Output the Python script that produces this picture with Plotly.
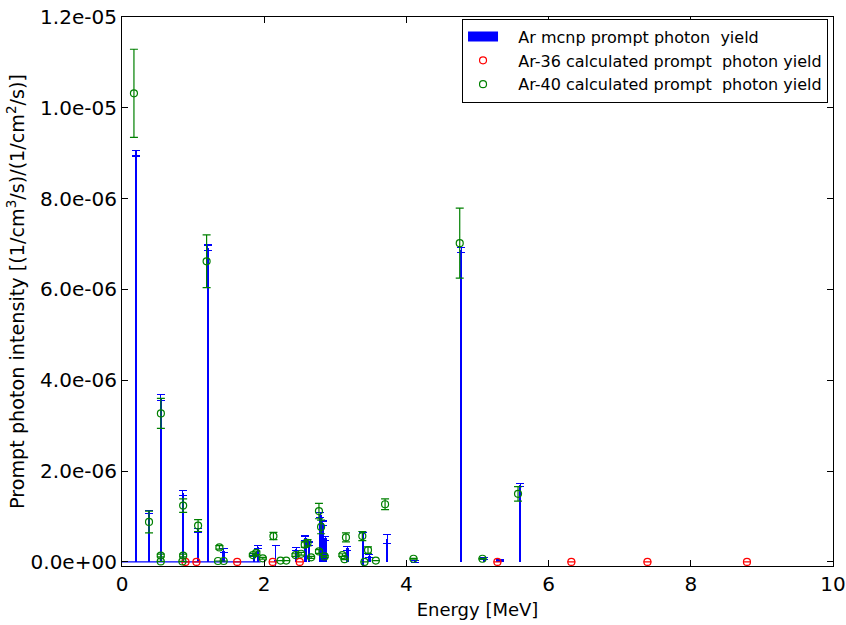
import plotly.graph_objects as go

# ---------------- data ----------------
# MCNP prompt photon yield (bars)
mcnp_energy = [0.196, 0.38, 0.547, 0.855, 1.066, 1.206, 1.43, 1.86, 1.91, 2.16, 2.45,
               2.58, 2.63, 2.79, 2.82, 2.86, 3.17, 3.39, 3.48, 3.73, 4.12, 4.77, 5.09, 5.31, 5.60]
mcnp_yield = [9.00e-6, 1.10e-6, 3.62e-6, 1.52e-6, 0.70e-6, 6.92e-6, 0.25e-6, 0.16e-6, 0.33e-6, 0.05e-6, 0.28e-6,
              0.52e-6, 0.40e-6, 1.03e-6, 0.85e-6, 0.52e-6, 0.30e-6, 0.08e-6, 0.13e-6, 0.50e-6, 0.01e-6, 6.87e-6, 0.08e-6, 0.04e-6, 1.69e-6]
mcnp_err = [0.06e-6, 0.04e-6, 0.06e-6, 0.05e-6, 0.04e-6, 0.06e-6, 0.04e-6, 0.03e-6, 0.04e-6, 0.32e-6, 0.03e-6,
            0.05e-6, 0.04e-6, 0.05e-6, 0.05e-6, 0.04e-6, 0.04e-6, 0.56e-6, 0.03e-6, 0.10e-6, 0.02e-6, 0.05e-6, 0.02e-6, 0.02e-6, 0.03e-6]
# range of near-zero MCNP bins drawn along the baseline
mcnp_zero_bins_energy = [0.0, 1.95]
mcnp_zero_bins_yield = [0.0, 0.0]

# Ar-36 calculated prompt photon yield
ar36_energy = [0.893, 1.047, 1.62, 2.12, 2.50, 5.28, 6.32, 7.39, 8.79]
ar36_yield = [0.0, 0.0, 0.0, 0.0, 0.0, 0.0, 0.0, 0.0, 0.0]
ar36_err = [0.0, 0.0, 0.0, 0.0, 0.0, 0.0, 0.0, 0.0, 0.0]

# Ar-40 calculated prompt photon yield
ar40_energy = [0.168, 0.38, 0.547, 0.545, 0.545, 0.86, 0.86, 0.85, 1.07, 1.19,
               1.37, 1.35, 1.43, 1.84, 1.89, 1.98, 2.13, 2.23, 2.31, 2.44,
               2.52, 2.57, 2.61, 2.66, 2.77, 2.80, 2.77, 2.85, 3.10, 3.13,
               3.15, 3.38, 3.41, 3.46, 3.57, 3.70, 4.10, 4.75, 5.07, 5.57]
ar40_yield = [10.32e-6, 0.88e-6, 3.27e-6, 0.14e-6, 0.01e-6, 1.24e-6, 0.14e-6, 0.01e-6, 0.80e-6, 6.62e-6,
              0.32e-6, 0.02e-6, 0.02e-6, 0.15e-6, 0.20e-6, 0.08e-6, 0.57e-6, 0.03e-6, 0.03e-6, 0.15e-6,
              0.18e-6, 0.38e-6, 0.42e-6, 0.10e-6, 1.12e-6, 0.77e-6, 0.23e-6, 0.12e-6, 0.15e-6, 0.06e-6,
              0.54e-6, 0.57e-6, 0.0, 0.26e-6, 0.03e-6, 1.27e-6, 0.07e-6, 7.02e-6, 0.07e-6, 1.50e-6]
ar40_err = [0.97e-6, 0.24e-6, 0.33e-6, 0.03e-6, 0.0, 0.15e-6, 0.03e-6, 0.0, 0.13e-6, 0.58e-6,
            0.04e-6, 0.0, 0.0, 0.03e-6, 0.04e-6, 0.02e-6, 0.08e-6, 0.0, 0.0, 0.03e-6,
            0.03e-6, 0.06e-6, 0.07e-6, 0.02e-6, 0.17e-6, 0.15e-6, 0.04e-6, 0.02e-6, 0.03e-6, 0.01e-6,
            0.10e-6, 0.10e-6, 0.0, 0.07e-6, 0.0, 0.12e-6, 0.01e-6, 0.77e-6, 0.01e-6, 0.16e-6]

y_tick_values = [0, 2e-6, 4e-6, 6e-6, 8e-6, 1.0e-5, 1.2e-5]
y_tick_labels = ["0.0e+00", "2.0e-06", "4.0e-06", "6.0e-06", "8.0e-06", "1.0e-05", "1.2e-05"]
x_tick_values = [0, 2, 4, 6, 8, 10]
x_tick_labels = ["0", "2", "4", "6", "8", "10"]

BLUE = "#0000ff"
RED = "#ff0000"
GREEN = "#008000"
FONT = "DejaVu Sans"
PAD = "\u00a0\u00a0\u00a0"

fig = go.Figure()

fig.add_trace(go.Scatter(
    x=mcnp_zero_bins_energy, y=mcnp_zero_bins_yield, mode="lines",
    line=dict(color=BLUE, width=1.2), showlegend=False, hoverinfo="skip"))

fig.add_trace(go.Bar(
    x=mcnp_energy, y=mcnp_yield, width=0.035,
    marker=dict(color=BLUE, line=dict(width=0)),
    error_y=dict(type="data", array=mcnp_err, color=BLUE, thickness=1.2, width=4),
    showlegend=False))

# legend entry for the bars (wide blue patch like the reference)
fig.add_trace(go.Scatter(
    x=[None], y=[None], mode="lines", line=dict(color=BLUE, width=10),
    name=PAD + "Ar mcnp prompt photon\u00a0 yield"))

fig.add_trace(go.Scatter(
    x=ar36_energy, y=ar36_yield, mode="markers",
    marker=dict(symbol="circle-open", size=7, color=RED, line=dict(width=1.2, color=RED)),
    error_y=dict(type="data", array=ar36_err, color=RED, thickness=1.2, width=4),
    name=PAD + "Ar-36 calculated prompt\u00a0 photon yield"))

fig.add_trace(go.Scatter(
    x=ar40_energy, y=ar40_yield, mode="markers",
    marker=dict(symbol="circle-open", size=7, color=GREEN, line=dict(width=1.2, color=GREEN)),
    error_y=dict(type="data", array=ar40_err, color=GREEN, thickness=1.2, width=4),
    name=PAD + "Ar-40 calculated prompt\u00a0 photon yield"))

axis_common = dict(
    showline=True, linecolor="black", linewidth=1.2, mirror="ticks",
    ticks="inside", ticklen=6, tickwidth=1, tickcolor="black",
    showgrid=False, zeroline=False, automargin=False,
    ticklabeloverflow="allow",
    tickfont=dict(family=FONT, size=20, color="black"),
)

fig.update_layout(
    width=846, height=625,
    margin=dict(l=122, r=13, t=17, b=59),
    paper_bgcolor="white", plot_bgcolor="white",
    font=dict(family=FONT, color="black"),
    bargap=0,
    xaxis=dict(range=[0, 10], tickvals=x_tick_values, ticktext=x_tick_labels,
               title=dict(text="Energy [MeV]", font=dict(family=FONT, size=18), standoff=8),
               **axis_common),
    yaxis=dict(range=[-0.09e-6, 1.2e-5], tickvals=y_tick_values, ticktext=y_tick_labels,
               title=dict(text="Prompt photon intensity [(1/cm<sup>3</sup>/s)/(1/cm<sup>2</sup>/s)]",
                          font=dict(family=FONT, size=19.2), standoff=0),
               **axis_common),
    legend=dict(x=0.993, y=0.997, xanchor="right", yanchor="top",
                bgcolor="white", bordercolor="black", borderwidth=1,
                font=dict(family=FONT, size=16, color="black"),
                tracegroupgap=0, itemwidth=30),
    showlegend=True,
)

fig.write_html("out.html", config={"displayModeBar": False},
               post_script="document.body.style.margin='0';")
